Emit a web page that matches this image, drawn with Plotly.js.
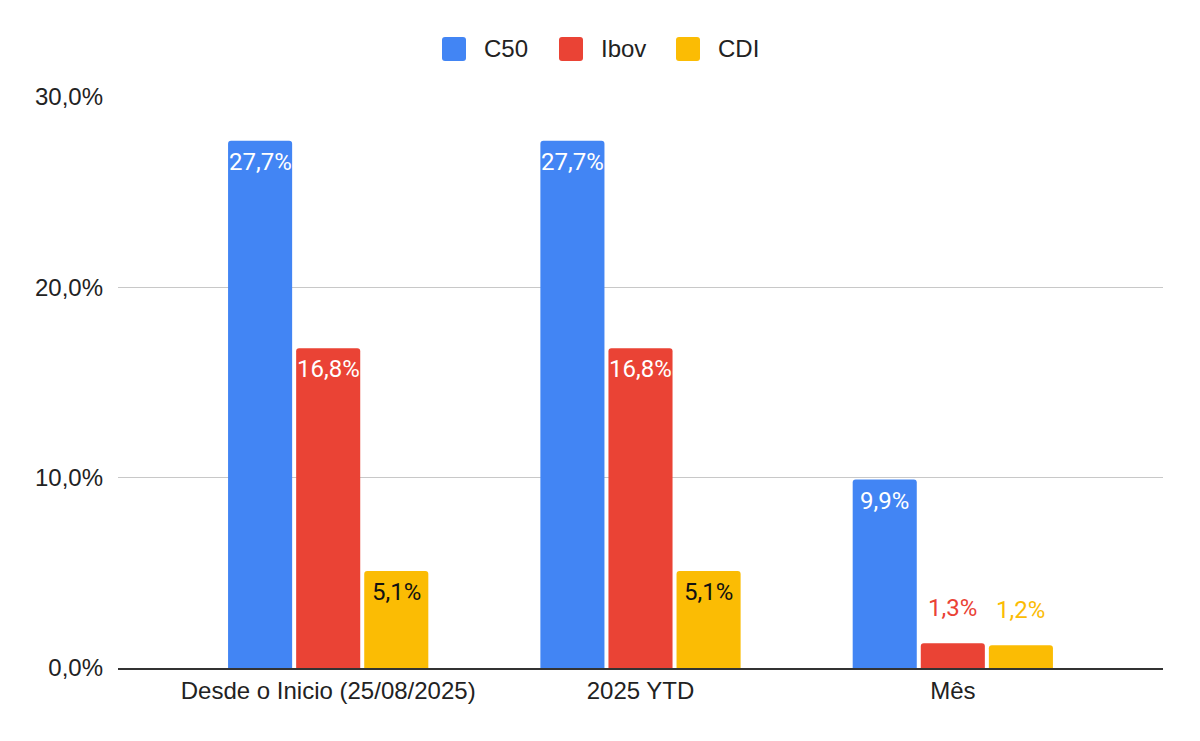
<!DOCTYPE html>
<html>
<head>
<meta charset="utf-8">
<script src="https://cdn.plot.ly/plotly-3.0.1.min.js"></script>
<style>html,body{margin:0;padding:0;background:#fff;}#chart{width:1200px;height:741px;}</style>
</head>
<body>
<div id="chart"></div>
<script>
// ---- data ----
const categories = ["Desde o Inicio (25/08/2025)", "2025 YTD", "Mês"];
const seriesNames = ["C50", "Ibov", "CDI"];
const c50Values  = [27.7, 27.7, 9.9];
const ibovValues = [16.8, 16.8, 1.3];
const cdiValues  = [5.1, 5.1, 1.2];
const yTickValues = [0, 10, 20, 30];

// ---- styles ----
const seriesValues = [c50Values, ibovValues, cdiValues];
const colors = ["#4285F4", "#EA4335", "#FBBC04"];
const insideTextColors = ["#ffffff", "#ffffff", "#111111"];
const fmt = v => v.toFixed(1).replace(".", ",") + "%";

const W = 1200, H = 741;
const margin = {l: 118, r: 37, t: 97, b: 73};
const plotW = W - margin.l - margin.r;
const plotH = H - margin.t - margin.b;
const pad = 0.173;
const slotPx = 68;

const traces = seriesValues.map((vals, i) => ({
  type: "bar",
  name: seriesNames[i],
  x: categories,
  y: vals,
  marker: {color: colors[i], cornerradius: 3},
  showlegend: false,
  hoverinfo: "skip"
}));

const annotations = [];
seriesValues.forEach((vals, i) => {
  vals.forEach((v, j) => {
    const inside = v >= 3;
    annotations.push({
      x: categories[j], y: v, xref: "x", yref: "y",
      text: fmt(v), showarrow: false,
      xanchor: "center",
      yanchor: inside ? "top" : "bottom",
      xshift: (i - 1) * slotPx,
      yshift: inside ? -5 : 19,
      font: {family: "Roboto, Arial, sans-serif", size: 24,
             color: inside ? insideTextColors[i] : colors[i]}
    });
  });
});

// custom legend (names from seriesNames, colors from colors)
const shapes = [];
const legendLeftPx = 442, legendStepPx = 117, legendTopPx = 37, sq = 24, rad = 3;
const px2x = p => (p - margin.l) / plotW;
const px2y = p => (H - margin.b - p) / plotH;
function roundRectPath(x0, y0, x1, y1, r) {
  // pixel coords -> paper coords path with rounded corners
  const X = px2x, Y = px2y;
  return "M" + X(x0 + r) + "," + Y(y0) +
    " L" + X(x1 - r) + "," + Y(y0) +
    " Q" + X(x1) + "," + Y(y0) + " " + X(x1) + "," + Y(y0 + r) +
    " L" + X(x1) + "," + Y(y1 - r) +
    " Q" + X(x1) + "," + Y(y1) + " " + X(x1 - r) + "," + Y(y1) +
    " L" + X(x0 + r) + "," + Y(y1) +
    " Q" + X(x0) + "," + Y(y1) + " " + X(x0) + "," + Y(y1 - r) +
    " L" + X(x0) + "," + Y(y0 + r) +
    " Q" + X(x0) + "," + Y(y0) + " " + X(x0 + r) + "," + Y(y0) + " Z";
}
seriesNames.forEach((name, i) => {
  const left = legendLeftPx + i * legendStepPx;
  shapes.push({
    type: "path", xref: "paper", yref: "paper",
    path: roundRectPath(left, legendTopPx, left + sq, legendTopPx + sq, rad),
    fillcolor: colors[i], line: {width: 0}
  });
  annotations.push({
    xref: "paper", yref: "paper",
    x: px2x(left + sq + 16), y: px2y(legendTopPx + sq / 2 - 1),
    xanchor: "left", yanchor: "middle", showarrow: false,
    text: name,
    font: {family: "Arial, 'Liberation Sans', sans-serif", size: 24, color: "#222222"}
  });
});

const layout = {
  width: W, height: H,
  margin: margin,
  paper_bgcolor: "#ffffff",
  plot_bgcolor: "#ffffff",
  barmode: "group",
  bargap: 0.346,
  bargroupgap: 0.0588,
  separators: ",.",
  font: {family: "Arial, 'Liberation Sans', sans-serif", size: 24, color: "#222222"},
  xaxis: {
    type: "category",
    range: [-0.5 - pad, categories.length - 0.5 + pad],
    showgrid: false,
    showline: true, linecolor: "#333333", linewidth: 2,
    ticks: "", tickfont: {size: 24, color: "#222222"},
    fixedrange: true
  },
  yaxis: {
    range: [0, 30],
    tickmode: "array",
    tickvals: yTickValues,
    ticktext: yTickValues.map(fmt),
    showgrid: true, gridcolor: "#c8c8c8", gridwidth: 1,
    zeroline: false,
    ticks: "", ticklabelstandoff: 14,
    tickfont: {size: 24, color: "#222222"},
    fixedrange: true
  },
  annotations: annotations,
  shapes: shapes,
  showlegend: false
};

Plotly.newPlot("chart", traces, layout, {staticPlot: true, displayModeBar: false});
</script>
</body>
</html>
